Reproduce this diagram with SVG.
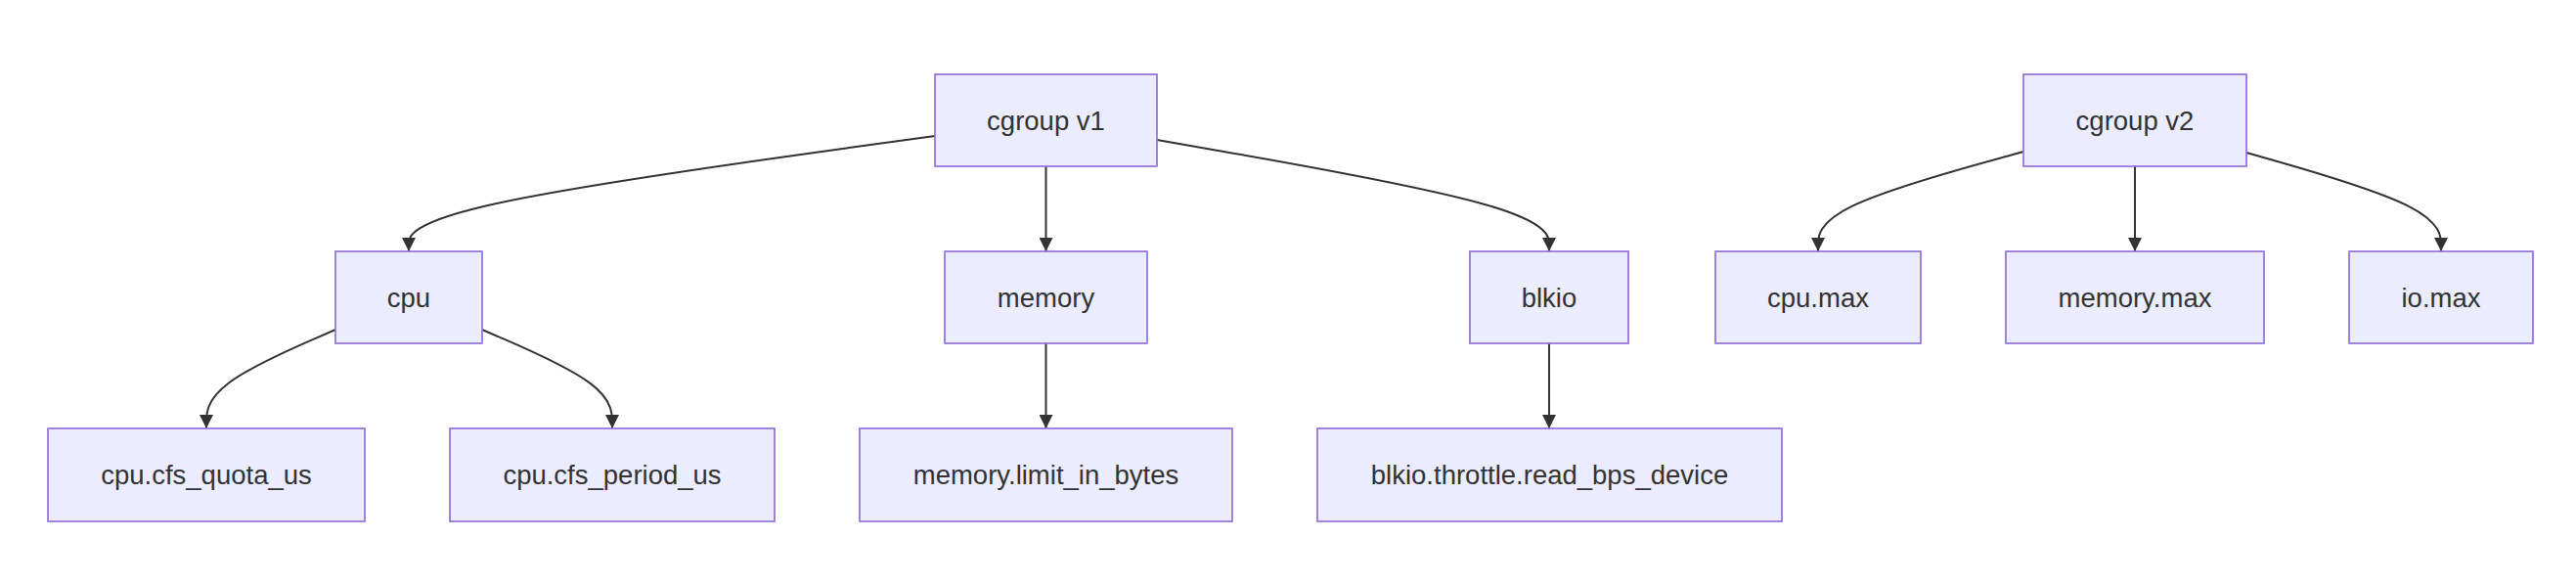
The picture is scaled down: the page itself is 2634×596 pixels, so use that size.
<svg xmlns="http://www.w3.org/2000/svg" width="2634" height="596" viewBox="0 0 2634 596">
<style>
.node rect{fill:#ECECFF;stroke:#9370DB;stroke-width:1.7}
.node text{font-family:"Liberation Sans",Arial,sans-serif;font-size:27.5px;fill:#333333;text-anchor:middle}
.edge{fill:none;stroke:#333333;stroke-width:2;marker-end:url(#arrow)}
</style>
<defs>
<marker id="arrow" viewBox="0 0 10 10" refX="10" refY="5" markerUnits="userSpaceOnUse" markerWidth="14" markerHeight="14" orient="auto">
<path d="M0,0 L10,5 L0,10 z" fill="#333333"/>
</marker>
</defs>
<rect width="2634" height="596" fill="#ffffff"/>
<g id="connectors">
<path class="edge" d="M956,139 L866.33,151.33 C776.67,163.67 597.33,188.33 507.67,208 C418,227.67 418,242.33 418,249.67 L418,257"/>
<path class="edge" d="M1069.5,170 L1069.5,257"/>
<path class="edge" d="M1183,143 L1249.83,154.67 C1316.67,166.33 1450.33,189.67 1517.17,208.67 C1584,227.67 1584,242.33 1584,249.67 L1584,257"/>
<path class="edge" d="M343,337 L321,346.58 C299,356.17 255,375.33 233,392.17 C211,409 211,423.5 211,430.75 L211,438"/>
<path class="edge" d="M493,337 L515.17,346.58 C537.33,356.17 581.67,375.33 603.83,392.17 C626,409 626,423.5 626,430.75 L626,438"/>
<path class="edge" d="M1069.5,351 L1069.5,438"/>
<path class="edge" d="M1584,351 L1584,438"/>
<path class="edge" d="M2069,155 L2034,164.67 C1999,174.33 1929,193.67 1894,210.67 C1859,227.67 1859,242.33 1859,249.67 L1859,257"/>
<path class="edge" d="M2183,170 L2183,257"/>
<path class="edge" d="M2297,156 L2330.17,165.5 C2363.33,175 2429.67,194 2462.83,210.83 C2496,227.67 2496,242.33 2496,249.67 L2496,257"/>
</g>
<g id="cgroup_v1" class="node"><rect x="956" y="76" width="227" height="94"/><text x="1069.5" y="132.5">cgroup v1</text></g>
<g id="cgroup_v2" class="node"><rect x="2069" y="76" width="228" height="94"/><text x="2183" y="132.5">cgroup v2</text></g>
<g id="cpu" class="node"><rect x="343" y="257" width="150" height="94"/><text x="418" y="313.5">cpu</text></g>
<g id="memory" class="node"><rect x="966" y="257" width="207" height="94"/><text x="1069.5" y="313.5">memory</text></g>
<g id="blkio" class="node"><rect x="1503" y="257" width="162" height="94"/><text x="1584" y="313.5">blkio</text></g>
<g id="cpu_max" class="node"><rect x="1754" y="257" width="210" height="94"/><text x="1859" y="313.5">cpu.max</text></g>
<g id="memory_max" class="node"><rect x="2051" y="257" width="264" height="94"/><text x="2183" y="313.5">memory.max</text></g>
<g id="io_max" class="node"><rect x="2402" y="257" width="188" height="94"/><text x="2496" y="313.5">io.max</text></g>
<g id="cpu_cfs_quota_us" class="node"><rect x="49" y="438" width="324" height="95"/><text x="211" y="495">cpu.cfs_quota_us</text></g>
<g id="cpu_cfs_period_us" class="node"><rect x="460" y="438" width="332" height="95"/><text x="626" y="495">cpu.cfs_period_us</text></g>
<g id="memory_limit_in_bytes" class="node"><rect x="879" y="438" width="381" height="95"/><text x="1069.5" y="495">memory.limit_in_bytes</text></g>
<g id="blkio_throttle_read_bps_device" class="node"><rect x="1347" y="438" width="475" height="95"/><text x="1584.5" y="495">blkio.throttle.read_bps_device</text></g>
</svg>
